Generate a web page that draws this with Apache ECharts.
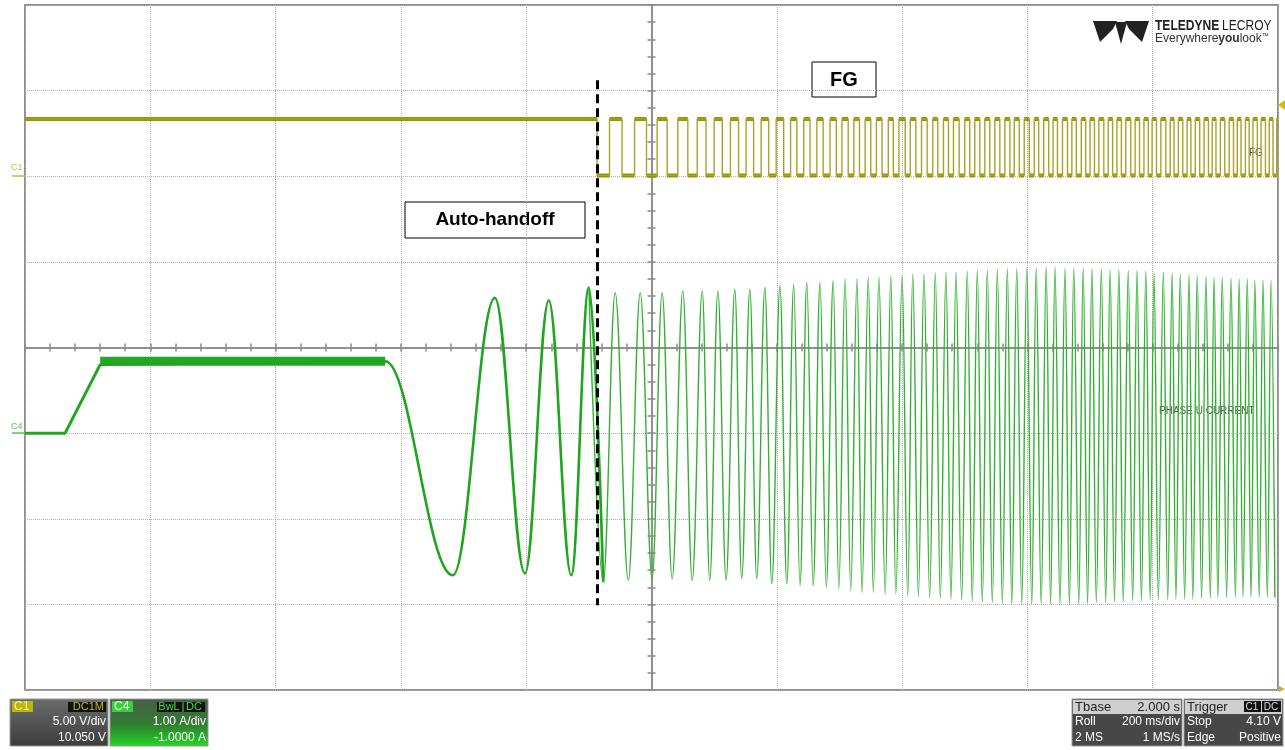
<!DOCTYPE html>
<html>
<head>
<meta charset="utf-8">
<title>Auto-handoff FG / Phase U current</title>
<script src="https://cdn.jsdelivr.net/npm/echarts@6/dist/echarts.min.js"></script>
<style>
html, body { margin: 0; padding: 0; background: #fff; }
#main { width: 1285px; height: 750px; }
</style>
</head>
<body>
<div id="main"></div>
<script>
// time in ms (200 ms/div), C4 current in A, C1 FG in V
var handoffTime = 913;
var fgHigh = 3.3;
var fgLow = 0;

// FG edges after handoff (first one is the falling edge at handoff)
var fgEdges = [913, 933, 953, 973, 992, 1009, 1025, 1042, 1058, 1073, 1087, 1100, 1113, 1126,
  1139, 1151, 1163, 1175, 1187, 1199, 1211, 1222, 1232, 1243, 1253, 1264, 1274, 1285, 1295,
  1304, 1314, 1323, 1332, 1341, 1350, 1359, 1368, 1378, 1386, 1395, 1405, 1413, 1422, 1431,
  1440, 1449, 1457, 1466, 1474, 1482, 1491, 1500, 1508, 1516, 1524, 1532, 1540, 1548, 1556,
  1564, 1572, 1579, 1587, 1595, 1603, 1611, 1618, 1626, 1634, 1641, 1648, 1656, 1664, 1671,
  1678, 1686, 1693, 1700, 1707, 1714, 1722, 1729, 1736, 1743, 1750, 1757, 1765, 1772, 1779,
  1786, 1793, 1799, 1806, 1813, 1821, 1828, 1834, 1841, 1848, 1855, 1861, 1868, 1875, 1882,
  1889, 1895, 1901, 1908, 1915, 1922, 1929, 1935, 1941, 1948, 1954, 1960, 1967, 1973, 1980,
  1986, 1992, 1998];

// phase U current: align + ramp + plateau
var rampCurrent = [[0, 0], [64, 0], [120, 0.80], [575, 0.84]];
var plateau = [[120, 0.84], [575, 0.84]];
// open loop start-up cycles (last plateau points, then peaks / troughs)
var openLoopExtrema = [[470, 0.84], [575, 0.84], [683, -1.66], [750, 1.58], [798, -1.64],
  [836, 1.55], [872, -1.66], [900, 1.70], [923, -1.74]];

// peaks / troughs after handoff
var cycleExtrema = [[900, 1.70], [923, -1.74], [942, 1.64], [963, -1.72], [982, 1.64], [1001, -1.70],
  [1017, 1.64], [1033, -1.70], [1050, 1.66], [1065, -1.72], [1081, 1.66], [1093, -1.72],
  [1106, 1.66], [1119, -1.72], [1133, 1.68], [1144, -1.70], [1157, 1.68], [1168, -1.70],
  [1181, 1.70], [1192, -1.76], [1205, 1.72], [1216, -1.76], [1227, 1.74], [1237, -1.78],
  [1248, 1.76], [1258, -1.78], [1269, 1.76], [1279, -1.80], [1290, 1.78], [1299, -1.82],
  [1309, 1.80], [1318, -1.84], [1328, 1.80], [1336, -1.86], [1346, 1.82], [1354, -1.86],
  [1363, 1.82], [1373, -1.88], [1382, 1.84], [1390, -1.88], [1400, 1.84], [1409, -1.90],
  [1417, 1.86], [1426, -1.91], [1435, 1.86], [1444, -1.92], [1453, 1.87], [1461, -1.93],
  [1470, 1.88], [1478, -1.94], [1486, 1.88], [1495, -1.95], [1504, 1.89], [1512, -1.96],
  [1520, 1.90], [1528, -1.97], [1536, 1.90], [1544, -1.98], [1552, 1.91], [1560, -1.99],
  [1568, 1.92], [1575, -2.00], [1583, 1.92], [1591, -2.00], [1599, 1.93], [1607, -2.00],
  [1614, 1.93], [1622, -2.00], [1630, 1.94], [1637, -2.00], [1644, 1.94], [1652, -2.00],
  [1660, 1.93], [1667, -2.00], [1674, 1.93], [1682, -2.00], [1689, 1.93], [1696, -1.99],
  [1703, 1.92], [1710, -1.98], [1718, 1.92], [1725, -1.98], [1732, 1.91], [1739, -1.97],
  [1746, 1.91], [1753, -1.97], [1761, 1.90], [1768, -1.96], [1775, 1.90], [1782, -1.96],
  [1789, 1.89], [1796, -1.95], [1802, 1.88], [1809, -1.95], [1817, 1.88], [1824, -1.95],
  [1831, 1.87], [1837, -1.94], [1844, 1.86], [1851, -1.94], [1858, 1.85], [1864, -1.94],
  [1871, 1.84], [1878, -1.93], [1885, 1.83], [1892, -1.93], [1898, 1.82], [1904, -1.93],
  [1911, 1.82], [1918, -1.92], [1925, 1.81], [1932, -1.92], [1938, 1.80], [1944, -1.92],
  [1951, 1.80], [1957, -1.92], [1963, 1.79], [1970, -1.92], [1976, 1.79], [1983, -1.92],
  [1989, 1.78], [1995, -1.92]];

// FG step trace + thick flat segments (noise band)
var fgLine = [[0, fgHigh]];
var fgFlats = [];
var level = fgHigh;
var segStart = 0;
fgEdges.forEach(function (t) {
  fgLine.push([t, level]);
  fgFlats.push([segStart, level], [t, level], [t, '-']);
  level = level === fgHigh ? fgLow : fgHigh;
  fgLine.push([t, level]);
  segStart = t;
});
fgLine.push([2000, level]);
fgFlats.push([segStart, level], [2000, level]);

var font = '"Liberation Sans", Arial, sans-serif';

var chartDom = document.getElementById('main');
var myChart = echarts.init(chartDom);
var option;

var gridDot = { color: '#b2b2b2', type: 'dotted', width: 1 };
var centerLine = { color: '#8a8a8a', width: 1.5 };

function t(x, y, text, size, color, align, weight) {
  return {
    type: 'text', x: x, y: y, silent: true,
    style: {
      text: text, fill: color, textAlign: align || 'left', textVerticalAlign: 'middle',
      font: (weight || 'normal') + ' ' + size + 'px ' + font
    }
  };
}
function r(x, y, w, h, fill, stroke) {
  return {
    type: 'rect', silent: true, shape: { x: x, y: y, width: w, height: h },
    style: { fill: fill, stroke: stroke || null, lineWidth: stroke ? 1 : 0 }
  };
}
function centerAxis(pos, zeroIdx) {
  return {
    type: 'value', position: pos,
    axisLine: { show: true, onZero: true, onZeroAxisIndex: zeroIdx, lineStyle: centerLine },
    axisTick: { show: true, length: 4, lineStyle: centerLine },
    minorTick: { show: true, splitNumber: 5, length: 4, lineStyle: centerLine },
    axisLabel: { show: false }, splitLine: { show: false }
  };
}

var xDiv1 = centerAxis('bottom', 2), xDiv2 = centerAxis('top', 2);
var yDiv1 = centerAxis('left', 1), yDiv2 = centerAxis('right', 1);
[xDiv1, xDiv2].forEach(function (a) { a.min = -5; a.max = 5; a.interval = 1; });
[yDiv1, yDiv2].forEach(function (a) { a.min = -4; a.max = 4; a.interval = 1; });

option = {
  animation: false,
  backgroundColor: '#fff',
  grid: {
    left: 25, right: 7, top: 5, bottom: 60,
    show: true, borderColor: '#8f8f8f', borderWidth: 2
  },
  xAxis: [
    {
      type: 'value', min: 0, max: 2000, interval: 200,
      axisLine: { show: false }, axisTick: { show: false }, axisLabel: { show: false },
      splitLine: { show: true, lineStyle: gridDot }
    },
    xDiv1,
    xDiv2
  ],
  yAxis: [
    {
      // C4: 1 A/div, offset -1 A
      type: 'value', min: -3, max: 5, interval: 1,
      axisLine: { show: false }, axisTick: { show: false }, axisLabel: { show: false },
      splitLine: { show: true, lineStyle: gridDot }
    },
    {
      // C1: 5 V/div, offset 10.05 V
      type: 'value', min: -30.05, max: 9.95, show: false
    },
    yDiv1,
    yDiv2
  ],
  series: [
    {
      name: 'FG band', type: 'line', xAxisIndex: 0, yAxisIndex: 1,
      data: fgFlats, showSymbol: false, silent: true, connectNulls: false,
      lineStyle: { color: '#9a9300', width: 4 }, z: 3
    },
    {
      name: 'FG', type: 'line', xAxisIndex: 0, yAxisIndex: 1,
      data: fgLine, showSymbol: false, silent: true,
      lineStyle: { color: '#a8a22a', width: 1.4 }, z: 4
    },
    {
      name: 'plateau', type: 'line', xAxisIndex: 0, yAxisIndex: 0,
      data: plateau, showSymbol: false, silent: true,
      lineStyle: { color: '#24a824', width: 9 }, z: 3
    },
    {
      name: 'ramp', type: 'line', xAxisIndex: 0, yAxisIndex: 0,
      data: rampCurrent, showSymbol: false, silent: true,
      lineStyle: { color: '#1fa51f', width: 3 }, z: 4,
      markLine: {
        silent: true, symbol: 'none', label: { show: false },
        lineStyle: { color: '#000', type: [9, 5], width: 3 },
        data: [[{ coord: [handoffTime, 4.12] }, { coord: [handoffTime, -2.01] }]]
      }
    },
    {
      name: 'open loop', type: 'line', xAxisIndex: 0, yAxisIndex: 0,
      data: openLoopExtrema, showSymbol: false, silent: true,
      smooth: 0.38, smoothMonotone: 'x',
      lineStyle: { color: '#1fa51f', width: 2.6 }, z: 4
    },
    {
      name: 'PHASE U CURRENT', type: 'line', xAxisIndex: 0, yAxisIndex: 0,
      data: cycleExtrema, showSymbol: false, silent: true,
      smooth: 0.38, smoothMonotone: 'x',
      lineStyle: { color: '#33b033', width: 1.4 }, z: 4
    }
  ],
  graphic: [
    // annotation boxes
    r(812, 62, 64, 35, '#fff', '#000'),
    t(844, 80, 'FG', 20, '#000', 'center', 'bold'),
    r(405, 202, 180, 36, '#fff', '#000'),
    t(495, 220, 'Auto-handoff', 19, '#000', 'center', 'bold'),
    // trace names
    t(1249, 153, 'FG', 10, '#555', 'left'),
    t(1159, 411, 'PHASE U CURRENT', 10, '#555', 'left'),
    // channel markers
    t(11, 168, 'C1', 9, '#c2bc3a', 'left'),
    { type: 'line', silent: true, shape: { x1: 12, y1: 176, x2: 25, y2: 176 }, style: { stroke: '#c2bc3a', lineWidth: 1.5 } },
    t(11, 427, 'C4', 9, '#4fcb4f', 'left'),
    { type: 'line', silent: true, shape: { x1: 12, y1: 433, x2: 25, y2: 433 }, style: { stroke: '#4fcb4f', lineWidth: 1.5 } },
    { type: 'polygon', silent: true, shape: { points: [[1285, 100], [1285, 110], [1278, 105]] }, style: { fill: '#c8c000' } },
    { type: 'polygon', silent: true, shape: { points: [[1279, 686], [1285, 689], [1279, 692]] }, style: { fill: '#e8a020' } },
    // logo
    { type: 'polygon', silent: true, shape: { points: [[1093, 21], [1117, 21], [1113, 29], [1100, 42]] }, style: { fill: '#222' } },
    { type: 'polygon', silent: true, shape: { points: [[1149, 21], [1125, 21], [1129, 29], [1142, 42]] }, style: { fill: '#222' } },
    { type: 'polygon', silent: true, shape: { points: [[1115, 22], [1127, 22], [1121, 44]] }, style: { fill: '#222' } },
    {
      type: 'text', x: 1155, y: 26, scaleX: 0.86, silent: true,
      style: {
        text: '{b|TELEDYNE} {n|LECROY}', textVerticalAlign: 'middle',
        rich: {
          b: { font: 'bold 14px "Liberation Sans", Arial', fill: '#222' },
          n: { font: '14px "Liberation Sans", Arial', fill: '#222' }
        }
      }
    },
    {
      type: 'text', x: 1155, y: 39, silent: true,
      style: {
        text: '{n|Everywhere}{b|you}{n|look}{s|™}', textVerticalAlign: 'middle',
        rich: {
          b: { font: 'bold 12px "Liberation Sans", Arial', fill: '#333' },
          n: { font: '12px "Liberation Sans", Arial', fill: '#333' },
          s: { font: '7px "Liberation Sans", Arial', fill: '#333', verticalAlign: 'top' }
        }
      }
    },
    // C1 panel
    {
      type: 'rect', silent: true, shape: { x: 10, y: 699, width: 98, height: 47 },
      style: { fill: new echarts.graphic.LinearGradient(0, 0, 0, 1, [{ offset: 0, color: '#6c6c6c' }, { offset: 1, color: '#3c3c3c' }]), stroke: '#999', lineWidth: 1 }
    },
    r(12, 701, 21, 11, '#bdb60c'),
    t(14, 707, 'C1', 12, '#f4f0b0'),
    r(68, 702, 38, 10, '#111'),
    t(104, 707, 'DC1M', 11, '#c6be10', 'right'),
    t(106, 722, '5.00 V/div', 12, '#fff', 'right'),
    t(106, 738, '10.050 V', 12, '#fff', 'right'),
    // C4 panel
    {
      type: 'rect', silent: true, shape: { x: 110, y: 699, width: 98, height: 47 },
      style: { fill: new echarts.graphic.LinearGradient(0, 0, 0, 1, [{ offset: 0, color: '#4d5a4d' }, { offset: 0.55, color: '#2f7f2f' }, { offset: 1, color: '#22d822' }]), stroke: '#999', lineWidth: 1 }
    },
    r(112, 701, 21, 11, '#3bcf3b'),
    t(114, 707, 'C4', 12, '#eaffea'),
    r(157, 702, 25, 10, '#111'),
    t(169, 707, 'BwL', 11, '#3bdd3b', 'center'),
    r(184, 702, 21, 10, '#111'),
    t(194, 707, 'DC', 11, '#3bdd3b', 'center'),
    t(206, 722, '1.00 A/div', 12, '#fff', 'right'),
    t(206, 738, '-1.0000 A', 12, '#fff', 'right'),
    // Tbase panel
    r(1072, 699, 110, 47, '#474747', '#999'),
    r(1073, 700, 108, 14, '#cfcfcf'),
    t(1075, 707, 'Tbase', 13, '#222'),
    t(1180, 707, '2.000 s', 13, '#222', 'right'),
    t(1075, 722, 'Roll', 12, '#fff'),
    t(1180, 722, '200 ms/div', 12, '#fff', 'right'),
    t(1075, 738, '2 MS', 12, '#fff'),
    t(1180, 738, '1 MS/s', 12, '#fff', 'right'),
    // Trigger panel
    r(1184, 699, 99, 47, '#474747', '#999'),
    r(1185, 700, 97, 14, '#cfcfcf'),
    t(1187, 707, 'Trigger', 13, '#222'),
    r(1244, 701, 17, 11, '#111'),
    t(1252, 707, 'C1', 10, '#ddd', 'center'),
    r(1262, 701, 19, 11, '#111'),
    t(1271, 707, 'DC', 10, '#ddd', 'center'),
    t(1187, 722, 'Stop', 12, '#fff'),
    t(1281, 722, '4.10 V', 12, '#fff', 'right'),
    t(1187, 738, 'Edge', 12, '#fff'),
    t(1281, 738, 'Positive', 12, '#fff', 'right')
  ]
};

option && myChart.setOption(option);
</script>
</body>
</html>
